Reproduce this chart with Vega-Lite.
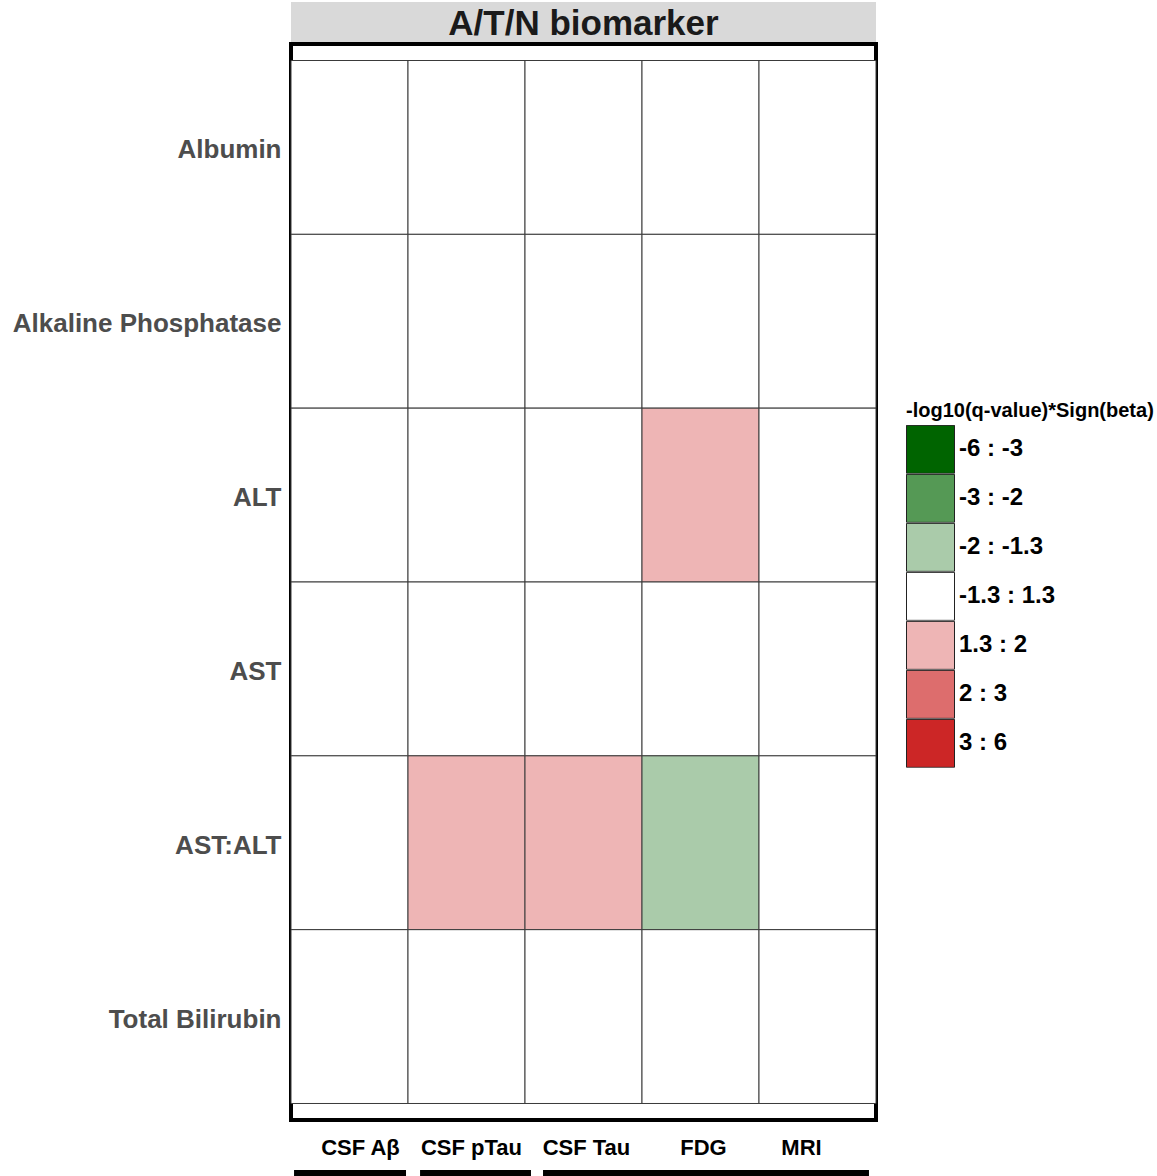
{
  "$schema": "https://vega.github.io/schema/vega-lite/v6.json",
  "autosize": {"type": "none"},
  "padding": {"left": 291, "top": 44, "right": 281, "bottom": 56},
  "width": 585,
  "height": 1076,
  "background": "white",
  "config": {
    "font": "Liberation Sans",
    "view": {"stroke": "black", "strokeWidth": 4}
  },
  "datasets": {
    "cells": [
      {"row": "Albumin", "col": "CSF Aβ", "cat": "-1.3 : 1.3"},
      {"row": "Albumin", "col": "CSF pTau", "cat": "-1.3 : 1.3"},
      {"row": "Albumin", "col": "CSF Tau", "cat": "-1.3 : 1.3"},
      {"row": "Albumin", "col": "FDG", "cat": "-1.3 : 1.3"},
      {"row": "Albumin", "col": "MRI", "cat": "-1.3 : 1.3"},
      {"row": "Alkaline Phosphatase", "col": "CSF Aβ", "cat": "-1.3 : 1.3"},
      {"row": "Alkaline Phosphatase", "col": "CSF pTau", "cat": "-1.3 : 1.3"},
      {"row": "Alkaline Phosphatase", "col": "CSF Tau", "cat": "-1.3 : 1.3"},
      {"row": "Alkaline Phosphatase", "col": "FDG", "cat": "-1.3 : 1.3"},
      {"row": "Alkaline Phosphatase", "col": "MRI", "cat": "-1.3 : 1.3"},
      {"row": "ALT", "col": "CSF Aβ", "cat": "-1.3 : 1.3"},
      {"row": "ALT", "col": "CSF pTau", "cat": "-1.3 : 1.3"},
      {"row": "ALT", "col": "CSF Tau", "cat": "-1.3 : 1.3"},
      {"row": "ALT", "col": "FDG", "cat": "1.3 : 2"},
      {"row": "ALT", "col": "MRI", "cat": "-1.3 : 1.3"},
      {"row": "AST", "col": "CSF Aβ", "cat": "-1.3 : 1.3"},
      {"row": "AST", "col": "CSF pTau", "cat": "-1.3 : 1.3"},
      {"row": "AST", "col": "CSF Tau", "cat": "-1.3 : 1.3"},
      {"row": "AST", "col": "FDG", "cat": "-1.3 : 1.3"},
      {"row": "AST", "col": "MRI", "cat": "-1.3 : 1.3"},
      {"row": "AST:ALT", "col": "CSF Aβ", "cat": "-1.3 : 1.3"},
      {"row": "AST:ALT", "col": "CSF pTau", "cat": "1.3 : 2"},
      {"row": "AST:ALT", "col": "CSF Tau", "cat": "1.3 : 2"},
      {"row": "AST:ALT", "col": "FDG", "cat": "-2 : -1.3"},
      {"row": "AST:ALT", "col": "MRI", "cat": "-1.3 : 1.3"},
      {"row": "Total Bilirubin", "col": "CSF Aβ", "cat": "-1.3 : 1.3"},
      {"row": "Total Bilirubin", "col": "CSF pTau", "cat": "-1.3 : 1.3"},
      {"row": "Total Bilirubin", "col": "CSF Tau", "cat": "-1.3 : 1.3"},
      {"row": "Total Bilirubin", "col": "FDG", "cat": "-1.3 : 1.3"},
      {"row": "Total Bilirubin", "col": "MRI", "cat": "-1.3 : 1.3"}
    ],
    "strip": [
      {"label": "A/T/N biomarker", "x0": 0, "x1": 5, "y0": 1.0019, "y1": 1.039, "tx": 2.5, "ty": 1.008}
    ],
    "groups": [
      {"x0": 0.026, "x1": 0.983, "y0": -0.0465, "y1": -0.07},
      {"x0": 1.103, "x1": 2.051, "y0": -0.0465, "y1": -0.07},
      {"x0": 2.154, "x1": 4.94, "y0": -0.0465, "y1": -0.07}
    ]
  },
  "layer": [
    {
      "data": {"name": "cells"},
      "mark": {"type": "rect", "stroke": "#3a3a3a", "strokeWidth": 1},
      "encoding": {
        "x": {
          "field": "col", "type": "nominal",
          "sort": ["CSF Aβ", "CSF pTau", "CSF Tau", "FDG", "MRI"],
          "scale": {"paddingInner": 0, "paddingOuter": 0},
          "axis": {
            "title": null, "domain": false, "ticks": false, "labelAngle": 0,
            "labelFontSize": 22, "labelFontWeight": "bold", "labelColor": "black",
            "labelPadding": 17, "labelBaseline": "top",
            "labelOffset": {"condition": [
              {"test": "datum.value === 'CSF Aβ'", "value": 11},
              {"test": "datum.value === 'CSF pTau'", "value": 5},
              {"test": "datum.value === 'MRI'", "value": -16}
            ], "value": 3}
          }
        },
        "y": {
          "field": "row", "type": "nominal",
          "sort": ["Albumin", "Alkaline Phosphatase", "ALT", "AST", "AST:ALT", "Total Bilirubin"],
          "scale": {"paddingInner": 0, "paddingOuter": 0.095},
          "axis": {
            "title": null, "domain": false, "ticks": false,
            "labelFontSize": 26, "labelFontWeight": "bold", "labelColor": "#4d4d4d",
            "labelPadding": 10, "labelLimit": 600, "labelOffset": 3
          }
        },
        "color": {
          "field": "cat", "type": "nominal",
          "scale": {
            "domain": ["-6 : -3", "-3 : -2", "-2 : -1.3", "-1.3 : 1.3", "1.3 : 2", "2 : 3", "3 : 6"],
            "range": ["#006400", "#559955", "#aacbaa", "#ffffff", "#eeb5b5", "#dd6d6d", "#cc2626"]
          },
          "legend": {
            "title": "-log10(q-value)*Sign(beta)",
            "orient": "none", "legendX": 615, "legendY": 357,
            "titleFontSize": 20, "titleFontWeight": "bold", "titleColor": "black",
            "titlePadding": 4, "titleLimit": 400,
            "labelFontSize": 24, "labelFontWeight": "bold", "labelColor": "black",
            "labelOffset": 4, "labelLimit": 300,
            "symbolType": "square", "symbolSize": 2304,
            "symbolStrokeColor": "#222222", "symbolStrokeWidth": 1,
            "symbolOpacity": 1, "clipHeight": 48.7,
            "rowPadding": 0, "padding": 0
          }
        }
      }
    },
    {
      "data": {"name": "strip"},
      "mark": {"type": "rect", "fill": "#d9d9d9"},
      "encoding": {
        "x": {"field": "x0", "type": "quantitative", "scale": {"domain": [0, 5], "nice": false, "zero": false}, "axis": null},
        "x2": {"field": "x1"},
        "y": {"field": "y0", "type": "quantitative", "scale": {"domain": [0, 1], "nice": false, "zero": false}, "axis": null},
        "y2": {"field": "y1"}
      }
    },
    {
      "data": {"name": "strip"},
      "mark": {"type": "text", "fontSize": 35, "fontWeight": "bold", "color": "#1a1a1a", "baseline": "alphabetic", "align": "center"},
      "encoding": {
        "x": {"field": "tx", "type": "quantitative", "scale": {"domain": [0, 5], "nice": false, "zero": false}, "axis": null},
        "y": {"field": "ty", "type": "quantitative", "scale": {"domain": [0, 1], "nice": false, "zero": false}, "axis": null},
        "text": {"field": "label"}
      }
    },
    {
      "data": {"name": "groups"},
      "mark": {"type": "rect", "fill": "black"},
      "encoding": {
        "x": {"field": "x0", "type": "quantitative", "scale": {"domain": [0, 5], "nice": false, "zero": false}, "axis": null},
        "x2": {"field": "x1"},
        "y": {"field": "y0", "type": "quantitative", "scale": {"domain": [0, 1], "nice": false, "zero": false}, "axis": null},
        "y2": {"field": "y1"}
      }
    }
  ],
  "resolve": {"scale": {"x": "independent", "y": "independent"}}
}
